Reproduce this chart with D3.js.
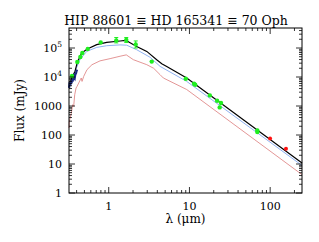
<!DOCTYPE html>
<html><head><meta charset="utf-8">
<script src="https://cdn.jsdelivr.net/npm/d3@7"></script>
<style>body{margin:0;background:#fff}svg{display:block}text{font-family:"DejaVu Serif","Liberation Serif",serif;fill:#000}</style>
</head><body><svg id="c" width="319" height="242"></svg>
<script>
const title = "HIP 88601 \u2261 HD 165341 \u2261 70 Oph";
const xTicks = [1, 10, 100];
const yTicks = [1, 10, 100, 1000, 10000, 100000];
const yTickLabels = ["1", "10", "100", "1000", "10^4", "10^5"];

const blackLam = [0.33, 0.348, 0.382, 0.408, 0.463, 0.543, 0.71, 0.944, 1.38, 1.62, 1.75, 2.22, 2.96, 3.93, 4.54, 5.23, 9.25, 248];
const blackF   = [6000, 9240, 15600, 31900, 67300, 92400, 130000, 156000, 174000, 182000, 165000, 113000, 76300, 39500, 28700, 23200, 9240, 10.8];

const blueLam = [0.323, 0.382, 0.44, 0.533, 0.71, 0.944, 1.38, 1.67, 2.22, 3.25, 4.33, 9.25, 248];
const blueF   = [4520, 15600, 39500, 76300, 105000, 120000, 128000, 125000, 87300, 48000, 23200, 7050, 8.9];

const redLam = [0.322, 0.325, 0.344, 0.358, 0.368, 0.379, 0.394, 0.405, 0.425, 0.445, 0.457, 0.467, 0.49, 0.538, 0.62, 0.78, 1.04, 1.38, 1.65, 2.02, 2.96, 3.6, 4.33, 4.75, 9.25, 248];
const redF   = [174, 294, 574, 1110, 970, 2450, 4170, 4740, 6210, 8070, 9240, 7050, 10500, 17900, 26500, 36000, 43000, 52000, 58000, 39500, 26600, 20000, 12000, 9240, 3700, 4.3];

const specLam = [0.323, 0.328, 0.334, 0.34, 0.346, 0.351, 0.357, 0.362, 0.368, 0.374, 0.38, 0.386, 0.392, 0.398, 0.405];
const specF   = [4200, 6500, 5200, 7400, 6000, 8300, 7000, 9200, 8000, 10500, 9500, 12500, 13000, 15500, 18000];

const greenLam = [0.351, 0.408, 0.445, 0.471, 0.55, 0.796, 1.24, 1.65, 2.16, 3.41, 9.0, 11.4, 11.8, 17.9, 22.0, 24.6, 23.7, 69.4, 69.4];
const greenF   = [10800, 32900, 49000, 67300, 92400, 156000, 183000, 189000, 133000, 34000, 8740, 5870, 5430, 2320, 1520, 1270, 895, 144, 127];
const errLam = [1.24, 1.65, 2.16];
const errLo  = [150000, 155000, 100000];
const errHi  = [230000, 230000, 175000];

const redPtLam = [99.7, 157];
const redPtF   = [76, 33.7];

const svg = d3.select("#c");
const L = 69, R = 302, T = 28, B = 193;
const x = d3.scaleLog().domain([0.322, 248]).range([L, R]);
const y = d3.scaleLog().domain([1, Math.pow(10, 165/29)]).range([B, T]);

const g = svg.append("g");
const line = d3.line().x(d => x(d[0])).y(d => y(d[1]));
const zip = (a, b) => a.map((v, i) => [v, b[i]]);

g.append("path").attr("d", line(zip(redLam, redF))).attr("fill", "none").attr("stroke", "#e08a8a").attr("stroke-width", 0.9);
g.append("path").attr("d", line(zip(blueLam, blueF))).attr("fill", "none").attr("stroke", "#8fb2f2").attr("stroke-width", 1);
g.append("path").attr("d", line(zip(blackLam, blackF))).attr("fill", "none").attr("stroke", "#000").attr("stroke-width", 1.2);
g.append("path").attr("d", line(zip(specLam, specF))).attr("fill", "none").attr("stroke", "#1c2a80").attr("stroke-width", 2.2);

// error bars
errLam.forEach((l, i) => {
  const xx = x(l);
  g.append("line").attr("x1", xx).attr("x2", xx).attr("y1", y(errLo[i])).attr("y2", y(errHi[i])).attr("stroke", "#22ee22").attr("stroke-width", 1);
  [errLo[i], errHi[i]].forEach(v => g.append("line").attr("x1", xx - 2).attr("x2", xx + 2).attr("y1", y(v)).attr("y2", y(v)).attr("stroke", "#22ee22").attr("stroke-width", 1));
});
g.selectAll(".gp").data(zip(greenLam, greenF)).join("circle").attr("cx", d => x(d[0])).attr("cy", d => y(d[1])).attr("r", 2.2).attr("fill", "#1fee1f");
g.selectAll(".rp").data(zip(redPtLam, redPtF)).join("circle").attr("cx", d => x(d[0])).attr("cy", d => y(d[1])).attr("r", 2).attr("fill", "#ff1010");

// frame
svg.append("rect").attr("x", L).attr("y", T).attr("width", R - L).attr("height", B - T).attr("fill", "none").attr("stroke", "#000").attr("stroke-width", 1);

// ticks
const xMinor = [];
for (let d = 0.1; d < 1000; d *= 10) for (let k = 2; k <= 9; k++) { const v = d * k; if (v >= 0.322 && v <= 248) xMinor.push(v); }
const yMinor = [];
for (let d = 1; d < 1e6; d *= 10) for (let k = 2; k <= 9; k++) { const v = d * k; if (v <= y.domain()[1]) yMinor.push(v); }
const tk = svg.append("g").attr("stroke", "#000").attr("stroke-width", 0.8);
xTicks.forEach(v => { const xx = x(v); tk.append("line").attr("x1", xx).attr("x2", xx).attr("y1", B).attr("y2", B - 6); tk.append("line").attr("x1", xx).attr("x2", xx).attr("y1", T).attr("y2", T + 6); });
xMinor.forEach(v => { const xx = x(v); tk.append("line").attr("x1", xx).attr("x2", xx).attr("y1", B).attr("y2", B - 3); tk.append("line").attr("x1", xx).attr("x2", xx).attr("y1", T).attr("y2", T + 3); });
yTicks.forEach(v => { const yy = y(v); tk.append("line").attr("x1", L).attr("x2", L + 6).attr("y1", yy).attr("y2", yy); tk.append("line").attr("x1", R).attr("x2", R - 6).attr("y1", yy).attr("y2", yy); });
yMinor.forEach(v => { const yy = y(v); tk.append("line").attr("x1", L).attr("x2", L + 3).attr("y1", yy).attr("y2", yy); tk.append("line").attr("x1", R).attr("x2", R - 3).attr("y1", yy).attr("y2", yy); });

// tick labels
xTicks.forEach(v => svg.append("text").attr("x", x(v)).attr("y", 210).attr("text-anchor", "middle").attr("font-size", 11).text(d3.format("d")(v)));
yTicks.forEach((v, i) => {
  const t = svg.append("text").attr("x", 62).attr("y", y(v) + 4).attr("text-anchor", "end").attr("font-size", 11);
  const lab = yTickLabels[i];
  if (lab.includes("^")) {
    const [b, e] = lab.split("^");
    t.append("tspan").text(b);
    t.append("tspan").attr("dy", -5).attr("font-size", 7.5).text(e);
  } else t.text(lab);
});

// titles
svg.append("text").attr("x", 176).attr("y", 24.5).attr("text-anchor", "middle").attr("font-size", 12.5).text(title);
svg.append("text").attr("transform", `translate(24,${(T + B) / 2}) rotate(-90)`).attr("text-anchor", "middle").attr("font-size", 12).text("Flux (mJy)");
svg.append("text").attr("x", (L + R) / 2).attr("y", 223).attr("text-anchor", "middle").attr("font-size", 12).text("\u03bb (\u03bcm)");
</script></body></html>
